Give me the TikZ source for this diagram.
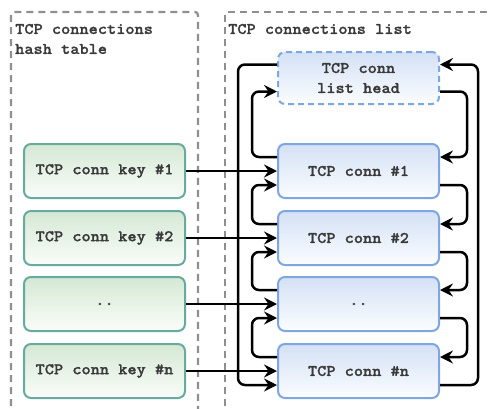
\documentclass[tikz,border=0pt]{standalone}
\usepackage{fontspec}
\newfontfamily\boxfont{lmmonolt10-bold.otf}[FakeStretch=1.08,FakeBold=1.2]
\usetikzlibrary{arrows.meta,calc}

\definecolor{frame}{HTML}{8F8F8F}
\definecolor{txt}{HTML}{3A3A3A}
\definecolor{keyline}{HTML}{67AB9F}
\definecolor{keytop}{HTML}{D5E8D4}
\definecolor{keybottom}{HTML}{FAFDF9}
\definecolor{connline}{HTML}{7EA6E0}
\definecolor{conntop}{HTML}{D4E1F5}
\definecolor{connbottom}{HTML}{FBFDFF}

\tikzset{
  boxtext/.style={font=\boxfont\fontsize{16.2}{20}\selectfont, text=txt, align=center},
  container/.style={draw=frame, line width=2.2pt, dash pattern=on 7pt off 5pt, rounded corners=3pt},
  title/.style={boxtext, anchor=west, inner sep=0pt, align=left},
  keybox/.style={boxtext, draw=keyline, line width=2pt, rounded corners=7pt,
    top color=keytop, bottom color=keybottom,
    minimum width=161pt, minimum height=54pt, inner sep=0pt},
  connbox/.style={boxtext, draw=connline, line width=2pt, rounded corners=7pt,
    top color=conntop, bottom color=connbottom,
    minimum width=161pt, minimum height=54pt, inner sep=0pt},
  headbox/.style={connbox, minimum height=52pt, dash pattern=on 6pt off 4pt},
  link/.style={draw=black, line width=2.5pt, rounded corners=7pt,
    -{Stealth[length=13pt,width=13pt,inset=4.5pt]}},
}

\begin{document}
\begin{tikzpicture}[x=1pt,y=-1pt]
\useasboundingbox (0,0) rectangle (488,408);

% dashed group frames, cut off at the picture edges
\begin{scope}
  \clip (0,0) rectangle (488,408);
  \draw[container] (11,430) -- (11,12) -- (198,12) -- (198,430);
  \draw[container] (225,430) -- (225,12) -- (510,12);
\end{scope}

\node[title] (t1) at (15,29) {TCP connections};
\node[title] (t2) at (15,49) {hash table};
\node[title] (t3) at (228,29) {TCP connections list};

% hash table keys
\node[keybox] (k1) at (104.5,171) {TCP conn key \#1};
\node[keybox] (k2) at (104.5,238) {TCP conn key \#2};
\node[keybox] (k3) at (104.5,304) {..};
\node[keybox] (kn) at (104.5,371) {TCP conn key \#n};

% list head and connections
\node[headbox] (h)  at (358.5,78)  {TCP conn\\list head};
\node[connbox] (c1) at (358.5,171) {TCP conn \#1};
\node[connbox] (c2) at (358.5,238) {TCP conn \#2};
\node[connbox] (c3) at (358.5,304) {..};
\node[connbox] (cn) at (358.5,371) {TCP conn \#n};

% attachment points at a quarter and three quarters of each side
\foreach \n in {h,c1,c2,c3,cn} {
  \coordinate (\n-l1) at ($(\n.north west)!0.25!(\n.south west)$);
  \coordinate (\n-l3) at ($(\n.north west)!0.75!(\n.south west)$);
  \coordinate (\n-r1) at ($(\n.north east)!0.25!(\n.south east)$);
  \coordinate (\n-r3) at ($(\n.north east)!0.75!(\n.south east)$);
}

% routing columns
\coordinate (lo) at (238,0);
\coordinate (li) at (252,0);
\coordinate (ri) at (467,0);
\coordinate (ro) at (478,0);

% key -> connection
\draw[link] (k1) -- (c1);
\draw[link] (k2) -- (c2);
\draw[link] (k3) -- (c3);
\draw[link] (kn) -- (cn);

% next pointers
\draw[link] (h-r3)  -- (ri |- h-r3)  -- (ri |- c1-r1) -- (c1-r1);
\draw[link] (c1-r3) -- (ri |- c1-r3) -- (ri |- c2-r1) -- (c2-r1);
\draw[link] (c2-r3) -- (ri |- c2-r3) -- (ri |- c3-r1) -- (c3-r1);
\draw[link] (c3-r3) -- (ri |- c3-r3) -- (ri |- cn-r1) -- (cn-r1);
\draw[link] (cn-r3) -- (ro |- cn-r3) -- (ro |- h-r1)  -- (h-r1);

% prev pointers
\draw[link] (c1-l1) -- (li |- c1-l1) -- (li |- h-l3)  -- (h-l3);
\draw[link] (c2-l1) -- (li |- c2-l1) -- (li |- c1-l3) -- (c1-l3);
\draw[link] (c3-l1) -- (li |- c3-l1) -- (li |- c2-l3) -- (c2-l3);
\draw[link] (cn-l1) -- (li |- cn-l1) -- (li |- c3-l3) -- (c3-l3);
\draw[link] (h-l1)  -- (lo |- h-l1)  -- (lo |- cn-l3) -- (cn-l3);
\end{tikzpicture}
\end{document}
